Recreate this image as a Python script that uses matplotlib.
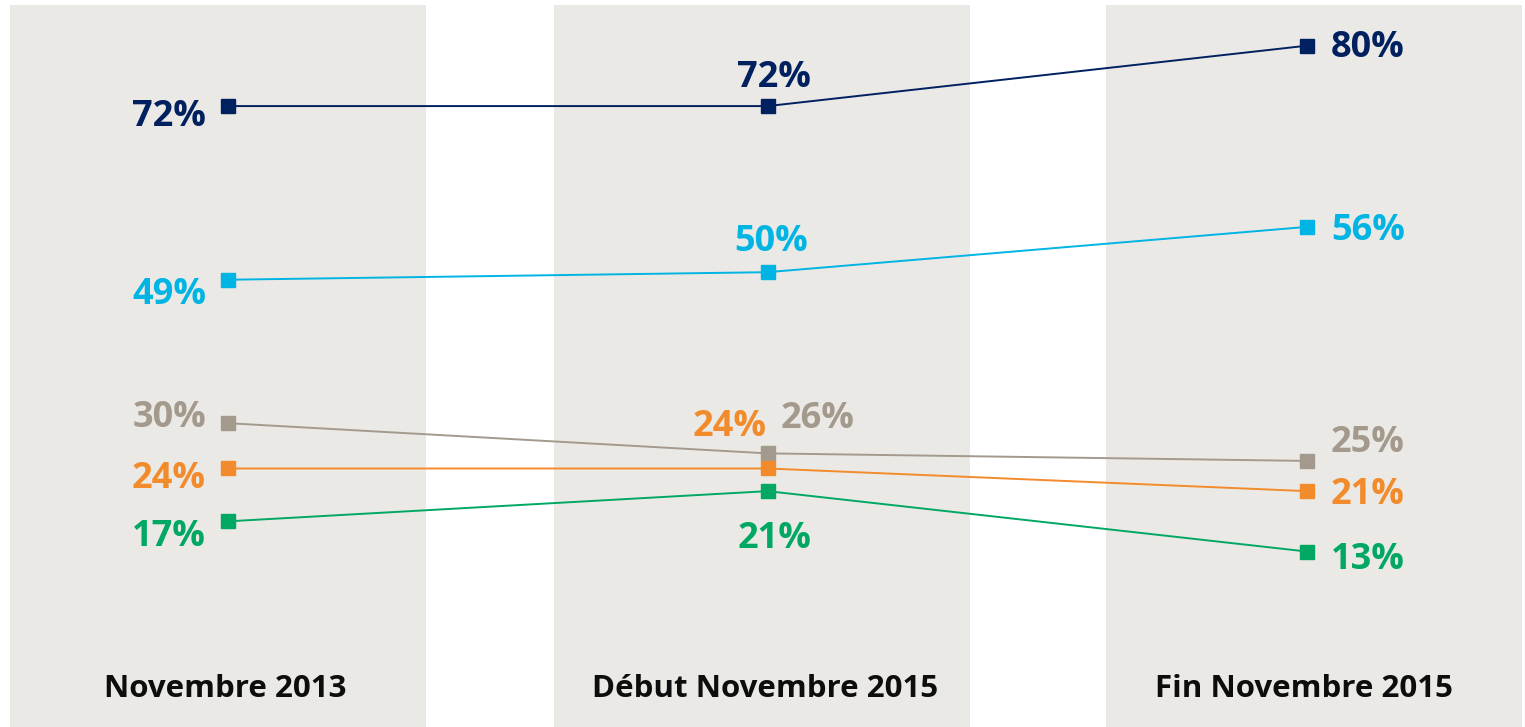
import matplotlib.pyplot as plt

plt.rcParams['font.family'] = ['Open Sans', 'DejaVu Sans']

# periods and survey values (%)
periods = ['Novembre 2013', 'Début Novembre 2015', 'Fin Novembre 2015']
serie_navy = [72, 72, 80]
serie_cyan = [49, 50, 56]
serie_gray = [30, 26, 25]
serie_orange = [24, 24, 21]
serie_green = [17, 21, 13]

series = [serie_navy, serie_cyan, serie_gray, serie_orange, serie_green]
colors = ['#002060', '#00b4e4', '#a39a8d', '#f28b2b', '#00a864']

# label offsets in pixels (dx, dy of digit centre from marker), per series and point
label_offsets = [
    [(-22, -6), (6, 33), (24, 2)],
    [(-22, -11), (4, 35), (24, 0)],
    [(-22, 10), (50, 39), (24, 22)],
    [(-22, -6), (-38, 46), (24, 1)],
    [(-22, -11), (7, -43), (24, -4)],
]
label_ha = ['right', 'center', 'left']

fig = plt.figure(figsize=(15.25, 7.27), dpi=100)
ax = fig.add_axes([0, 0, 1, 1])
ax.set_xlim(-0.4226, 2.404)
ax.set_ylim(-10.24, 86.05)
ax.axis('off')

# grey column backgrounds
panel_left = [-0.404, 0.604, 1.627]
for left in panel_left:
    ax.axvspan(left, left + 0.771, ymin=0, ymax=0.993, color='#ebe9e5', lw=0, zorder=0)

x = list(range(len(periods)))
for vals, col, offs in zip(series, colors, label_offsets):
    ax.plot(x, vals, color=col, lw=1.4, marker='s', ms=9.5, zorder=3)
    for i, v in enumerate(vals):
        dx, dy = offs[i]
        ax.annotate(f'{v}%', (i, v), xytext=(dx, dy - 13.5), textcoords='offset pixels',
                    ha=label_ha[i], va='baseline', fontsize=26, fontweight='bold',
                    color=col, zorder=4)

for i, p in enumerate(periods):
    ax.text(i - 0.005, 0.052, p, transform=ax.get_xaxis_transform(), ha='center', va='center',
            fontsize=22.5, fontweight='bold', color='#0d0d0d')

fig.savefig('out.png', dpi=100)
